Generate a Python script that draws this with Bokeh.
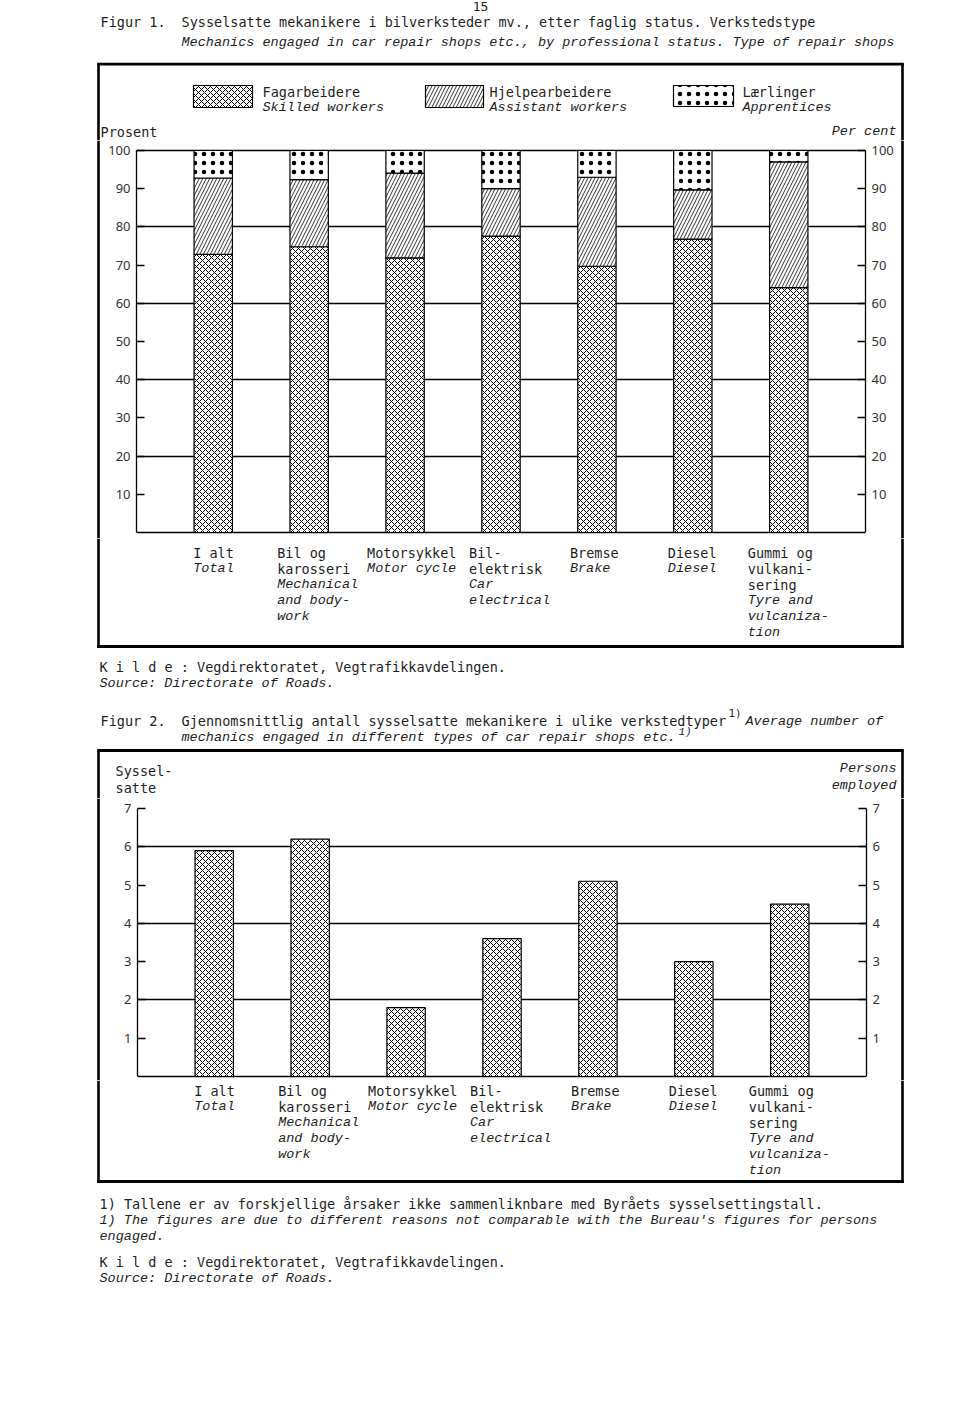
from bokeh.plotting import figure
from bokeh.models import Range1d, LinearAxis, FixedTicker
from bokeh.layouts import column, row
from bokeh.embed import file_html
from bokeh.resources import INLINE
from bokeh.core.properties import value

# ---------------- data ----------------
categories = ["I alt", "Bil og karosseri", "Motorsykkel", "Bilelektrisk",
              "Bremse", "Diesel", "Gummi og vulkanisering"]
skilled_pct = [72.8, 74.8, 71.9, 77.6, 69.7, 76.8, 64.1]
assistant_pct = [20.0, 17.6, 22.2, 12.4, 23.3, 12.9, 32.9]
apprentice_pct = [7.2, 7.6, 5.9, 10.0, 7.0, 10.3, 3.0]
avg_employed = [5.9, 6.2, 1.8, 3.6, 5.1, 3.0, 4.5]

pct_ticks = [10, 20, 30, 40, 50, 60, 70, 80, 90, 100]
pct_lines = [0, 20, 40, 60, 80, 100]
emp_ticks = [1, 2, 3, 4, 5, 6, 7]
emp_lines = [0, 2, 4, 6]

# category tick labels: (text, italic)
cat_labels = [
    [("I alt", False), ("Total", True)],
    [("Bil og", False), ("karosseri", False), ("Mechanical", True), ("and body-", True), ("work", True)],
    [("Motorsykkel", False), ("Motor cycle", True)],
    [("Bil-", False), ("elektrisk", False), ("Car", True), ("electrical", True)],
    [("Bremse", False), ("Brake", True)],
    [("Diesel", False), ("Diesel", True)],
    [("Gummi og", False), ("vulkani-", False), ("sering", False), ("Tyre and", True),
     ("vulcaniza-", True), ("tion", True)],
]
# layout: pixel offset of each label block's left edge from its bar centre
cat_offsets = [-20, -32, -38, -32, -27, -25, -41]

MONO = "DejaVu Sans Mono"
MONO_I = "Liberation Mono"
FS = "13.5px"
TXT = "#1e1e1e"
W = 960
idx = list(range(len(categories)))
XR = (-0.8, 6.8)

BOX_L, BOX_R, BOX_W = 98, 902, 2.6


def canvas(w, h, cat_frame=None):
    """A figure whose frame is the whole canvas, in page pixels (y down)."""
    p = figure(width=w, height=h, x_range=Range1d(0, w), y_range=Range1d(h, 0),
               min_border=0, output_backend="svg", toolbar_location=None,
               x_axis_location=None, y_axis_location=None, title=None)
    p.outline_line_color = None
    p.grid.visible = False
    p.background_fill_color = "white"
    if cat_frame is not None:
        fl, fr = cat_frame
        ppu = (fr - fl) / (XR[1] - XR[0])
        p.extra_x_ranges = {"cat": Range1d(XR[0] - fl / ppu, XR[1] + (w - fr) / ppu)}
    return p


def T(p, oy, px, py, s, italic=False, size=FS, align="left", font=None):
    p.text(x=[px], y=[py - oy], text=[s],
           text_font=value(font or (MONO_I if italic else MONO)),
           text_font_style="italic" if italic else "normal",
           text_font_size=value(size), text_baseline="middle",
           text_align=align, text_color=TXT)


def seg(p, oy, x0, y0, x1, y1, width=BOX_W):
    p.segment(x0=[x0], y0=[y0 - oy], x1=[x1], y1=[y1 - oy], line_color="black",
              line_width=width)


def sides(p, oy, y0, y1):
    seg(p, oy, BOX_L, y0, BOX_L, y1)
    seg(p, oy, BOX_R, y0, BOX_R, y1)


def cat_text(p, oy, line_ys):
    for i, lines in enumerate(cat_labels):
        for j, (s, it) in enumerate(lines):
            p.text(x=[idx[i]], y=[line_ys[j] - oy], text=[s], x_range_name="cat",
                   x_offset=cat_offsets[i],
                   text_font=value(MONO_I if it else MONO),
                   text_font_style="italic" if it else "normal",
                   text_font_size=value(FS), text_baseline="middle",
                   text_align="left", text_color=TXT)


def chart(top, bottom, lo, hi, px_hi, px_lo, bl, br, ticks, lines):
    """Chart whose frame spans page rows top..bottom; data lo..hi sits at px_lo..px_hi."""
    height = bottom - top
    ppu = (px_lo - px_hi) / (hi - lo)
    yr = Range1d(lo - (bottom - px_lo) / ppu, hi + (px_hi - top) / ppu)
    p = figure(width=800, height=height, x_range=Range1d(*XR), y_range=yr,
               output_backend="svg", toolbar_location=None, title=None,
               x_axis_location=None, y_axis_location=None,
               min_border_left=bl, min_border_right=br,
               min_border_top=0, min_border_bottom=0)
    p.background_fill_color = "white"
    p.border_fill_color = "white"
    p.outline_line_color = None
    p.xgrid.visible = False
    p.ygrid.ticker = FixedTicker(ticks=lines)
    p.ygrid.grid_line_color = "black"
    p.ygrid.grid_line_width = 1.3
    for side in ("left", "right"):
        ax = LinearAxis(ticker=FixedTicker(ticks=ticks), bounds=(lo, hi),
                        major_tick_in=8, major_tick_out=0,
                        minor_tick_line_color=None, axis_line_color="black",
                        axis_line_width=1.3, major_tick_line_color="black",
                        major_tick_line_width=1.3,
                        major_label_text_font="Noto Sans", major_label_text_font_size="13px",
                        major_label_text_color="#333333", major_label_standoff=6)
        p.add_layout(ax, side)
    return p


def strip_row(ch, height):
    sl = canvas(100, height)
    seg(sl, 0, BOX_L, 0, BOX_L, height)
    sr = canvas(60, height)
    seg(sr, 0, BOX_R - 900, 0, BOX_R - 900, height)
    return row(sl, ch, sr, spacing=0)


HATCH = dict(fill_color="white", hatch_color="black", line_color="black", line_width=1.2)
H_SK = dict(hatch_pattern="x", hatch_scale=6, hatch_weight=1.0)
H_AS = dict(hatch_pattern="/", hatch_scale=7, hatch_weight=0.8)
H_AP = dict(hatch_pattern=".", hatch_scale=9, hatch_weight=0.5)

# ---------------- Figure 1 ----------------
# A: header (page y 0..62)
A = canvas(W, 62)
T(A, 0, 480, 6, "15", align="center", size="13px")
T(A, 0, 100, 21, "Figur 1.")
T(A, 0, 181, 21, "Sysselsatte mekanikere i bilverksteder mv., etter faglig status.  Verkstedstype")
T(A, 0, 181, 42, "Mechanics engaged in car repair shops etc., by professional status.  Type of repair shops", italic=True)

# B: legend (62..140)
B = canvas(W, 78)
oy = 62
seg(B, oy, BOX_L - 1.3, 63.5, BOX_R + 1.3, 63.5, width=3)
sides(B, oy, 63, 140)
B.quad(left=[193], right=[252], top=[85 - oy], bottom=[107 - oy], **HATCH, **H_SK)
B.quad(left=[425], right=[483], top=[85 - oy], bottom=[107 - oy], **HATCH, **H_AS)
B.quad(left=[673], right=[733], top=[85 - oy], bottom=[106 - oy], **HATCH, **H_AP)
T(B, oy, 262, 91, "Fagarbeidere")
T(B, oy, 262, 107, "Skilled workers", italic=True)
T(B, oy, 489, 91, "Hjelpearbeidere")
T(B, oy, 489, 107, "Assistant workers", italic=True)
T(B, oy, 742, 91, "Lærlinger")
T(B, oy, 742, 107, "Apprentices", italic=True)
T(B, oy, 100, 131, "Prosent")
T(B, oy, 896, 131, "Per cent", italic=True, align="right")

# C: chart 1 (page rows 140..538), frame x 136..865, 0 -> y 532, 100 -> y 150
p1 = chart(140, 538, 0, 100, 150, 532, 36, 35, pct_ticks, pct_lines)
b1 = skilled_pct
b2 = [a + b for a, b in zip(skilled_pct, assistant_pct)]
b3 = [a + b for a, b in zip(b2, apprentice_pct)]
p1.vbar(x=idx, width=0.4, bottom=0, top=b1, **HATCH, **H_SK)
p1.vbar(x=idx, width=0.4, bottom=b1, top=b2, **HATCH, **H_AS)
p1.vbar(x=idx, width=0.4, bottom=b2, top=b3, **HATCH, **H_AP)
C = strip_row(p1, 398)

# D: category labels + source (538..700)
D = canvas(W, 162, cat_frame=(136, 865))
oy = 538
sides(D, oy, 538, 647)
seg(D, oy, BOX_L - 1.3, 646, BOX_R + 1.3, 646, width=3)
cat_text(D, oy, [552, 568, 584, 600, 616, 632])
T(D, oy, 99, 666, "K i l d e :  Vegdirektoratet, Vegtrafikkavdelingen.")
T(D, oy, 99, 683, "Source:  Directorate of Roads.", italic=True)

# ---------------- Figure 2 ----------------
# E: title (700..798)
E = canvas(W, 98)
oy = 700
T(E, oy, 100, 720, "Figur 2.")
T(E, oy, 181, 720, "Gjennomsnittlig antall sysselsatte mekanikere i ulike verkstedtyper")
T(E, oy, 728, 713, "1)", size="11px")
T(E, oy, 745, 721, "Average number of", italic=True)
T(E, oy, 181, 737, "mechanics engaged in different types of car repair shops etc.", italic=True)
T(E, oy, 678, 731, "1)", italic=True, size="11px")
seg(E, oy, BOX_L - 1.3, 750, BOX_R + 1.3, 750, width=3)
sides(E, oy, 750, 798)
T(E, oy, 115, 770, "Syssel-")
T(E, oy, 115, 787, "satte")
T(E, oy, 896, 768, "Persons", italic=True, align="right")
T(E, oy, 896, 785, "employed", italic=True, align="right")

# G: chart 2 (page rows 798..1080), frame x 137..866, 0 -> y 1076, 7 -> y 808
p2 = chart(798, 1080, 0, 7, 808, 1076, 37, 34, emp_ticks, emp_lines)
p2.vbar(x=idx, width=0.4, bottom=0, top=avg_employed, **HATCH, **H_SK)
G = strip_row(p2, 282)

# H: category labels, notes (1080..1419)
Hf = canvas(W, 339, cat_frame=(137, 866))
oy = 1080
sides(Hf, oy, 1080, 1182)
seg(Hf, oy, BOX_L - 1.3, 1181, BOX_R + 1.3, 1181, width=3)
cat_text(Hf, oy, [1090, 1106, 1122, 1138, 1154, 1170])
T(Hf, oy, 99, 1203, "1) Tallene er av forskjellige årsaker ikke sammenliknbare med Byråets sysselsettingstall.")
T(Hf, oy, 99, 1220, "1) The figures are due to different reasons not comparable with the Bureau's figures for persons", italic=True)
T(Hf, oy, 99, 1236, "engaged.", italic=True)
T(Hf, oy, 99, 1261, "K i l d e :  Vegdirektoratet, Vegtrafikkavdelingen.")
T(Hf, oy, 99, 1278, "Source:  Directorate of Roads.", italic=True)

layout = column(A, B, C, D, E, G, Hf, spacing=0)
open("out.html", "w").write(file_html(layout, INLINE))
